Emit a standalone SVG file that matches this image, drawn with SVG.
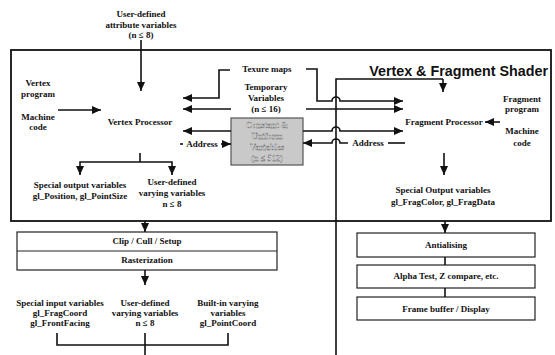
<svg xmlns="http://www.w3.org/2000/svg" width="555" height="355" viewBox="0 0 555 355">
<style>
.t{font-family:"Liberation Serif","Times New Roman",serif;font-weight:bold;font-size:9px;text-anchor:middle;fill:#111}
.ttl{font-family:"Liberation Sans",Arial,sans-serif;font-weight:bold;font-size:14.3px;text-anchor:end;fill:#111}
.ln{fill:none;stroke:#111;stroke-width:1.6}
.la{fill:none;stroke:#111;stroke-width:1.6;marker-end:url(#ah)}
.bx{fill:#fff;stroke:#222;stroke-width:1.2}
.gx{fill:#c9c9c9;stroke:#555;stroke-width:1.2}
.gt{font-family:"Liberation Serif","Times New Roman",serif;font-weight:bold;font-size:8.5px;text-anchor:middle;fill:#f2f2f2;stroke:#555;stroke-width:0.3}
</style>
<defs>
<marker id="ah" markerUnits="userSpaceOnUse" markerWidth="9" markerHeight="8" refX="9" refY="4" orient="auto">
<path d="M0,0 L9,4 L0,8 z" fill="#111"/>
</marker>
</defs>
<rect width="555" height="355" fill="#fff"/>

<g id="shader-frame">
<rect x="11" y="50" width="540" height="171" fill="none" stroke="#111" stroke-width="1.8"/>
<text class="ttl" x="548" y="76">Vertex &amp; Fragment Shader</text>
</g>

<g id="attributes">
<text class="t" x="141" y="17">User-defined</text>
<text class="t" x="141" y="28">attribute variables</text>
<text class="t" x="141" y="38">(n  ≤ 8)</text>
</g>

<g id="vertex-program">
<text class="t" x="38" y="86">Vertex</text>
<text class="t" x="38" y="97">program</text>
<text class="t" x="38" y="120">Machine</text>
<text class="t" x="38" y="130">code</text>
</g>

<g id="vertex-processor">
<text class="t" x="140" y="125">Vertex Processor</text>
</g>

<g id="texture-maps">
<text class="t" x="267" y="72">Texure maps</text>
</g>

<g id="temporary-variables">
<text class="t" x="266" y="90">Temporary</text>
<text class="t" x="266" y="101">Variables</text>
<text class="t" x="266" y="112">(n ≤ 16)</text>
</g>

<g id="uniform-variables">
<rect class="gx" x="231" y="118" width="72" height="47"/>
<text class="gt" x="267" y="128">Constant &amp;</text>
<text class="gt" x="267" y="139">Uniform</text>
<text class="gt" x="267" y="150">Variables</text>
<text class="gt" x="267" y="161">(n ≤ 512)</text>
</g>

<g id="fragment-processor">
<text class="t" x="444" y="125">Fragment Processor</text>
</g>

<g id="fragment-program">
<text class="t" x="522" y="102">Fragment</text>
<text class="t" x="522" y="112">program</text>
<text class="t" x="522" y="134">Machine</text>
<text class="t" x="522" y="146">code</text>
</g>

<g id="vertex-special-output">
<text class="t" x="80" y="188">Special output variables</text>
<text class="t" x="80" y="199">gl_Position, gl_PointSize</text>
</g>

<g id="vertex-varying-output">
<text class="t" x="172" y="185">User-defined</text>
<text class="t" x="172" y="196">varying variables</text>
<text class="t" x="172" y="207">n ≤ 8</text>
</g>

<g id="fragment-special-output">
<text class="t" x="443" y="193">Special Output variables</text>
<text class="t" x="443" y="205">gl_FragColor, gl_FragData</text>
</g>

<g id="clip-raster">
<rect class="bx" x="17" y="232" width="260" height="38"/>
<line x1="17" y1="251" x2="277" y2="251" stroke="#222" stroke-width="1"/>
<text class="t" x="147" y="244">Clip / Cull / Setup</text>
<text class="t" x="147" y="263">Rasterization</text>
</g>

<g id="special-input">
<text class="t" x="60" y="306">Special input variables</text>
<text class="t" x="60" y="316">gl_FragCoord</text>
<text class="t" x="60" y="326">gl_FrontFacing</text>
</g>

<g id="varying-input">
<text class="t" x="145" y="306">User-defined</text>
<text class="t" x="145" y="316">varying variables</text>
<text class="t" x="145" y="326">n ≤ 8</text>
</g>

<g id="builtin-varying">
<text class="t" x="228" y="306">Built-in varying</text>
<text class="t" x="228" y="316">variables</text>
<text class="t" x="228" y="326">gl_PointCoord</text>
</g>

<g id="antialiasing">
<rect class="bx" x="357" y="233" width="178" height="24"/>
<text class="t" x="446" y="248">Antialising</text>
</g>

<g id="alpha-test">
<rect class="bx" x="357" y="265" width="178" height="23"/>
<text class="t" x="446" y="279">Alpha Test, Z compare, etc.</text>
</g>

<g id="frame-buffer">
<rect class="bx" x="357" y="297" width="178" height="23"/>
<text class="t" x="446" y="312">Frame buffer / Display</text>
</g>

<g id="connectors">
<!-- attributes to vertex processor -->
<path class="la" d="M141,40 V91"/>
<!-- vertex machine code -->
<path class="la" d="M58,110 H101"/>
<!-- texture maps to vertex -->
<path class="la" d="M230,70 H219 V98 H183"/>
<!-- temporary to vertex -->
<path class="la" d="M231,109 H183"/>
<!-- uniform to vertex -->
<path class="la" d="M231,131 H183"/>
<!-- vertex address -->
<path class="ln" d="M180,144 H183"/>
<text class="t" x="202" y="147">Address</text>
<path class="la" d="M221,144 H231"/>
<!-- texture maps to fragment -->
<path class="la" d="M306,69 H317 V101 H332 A4,4 0 0 1 340,101 H403"/>
<!-- temporary to fragment -->
<path class="la" d="M306,109 H403"/>
<!-- uniform to fragment -->
<path class="la" d="M303,131 H332 A4,4 0 0 1 340,131 H403"/>
<!-- fragment address -->
<path class="la" d="M348,143 H340 A4,4 0 0 0 332,143 H303"/>
<text class="t" x="368" y="146">Address</text>
<path class="ln" d="M388,143 H405"/>
<!-- varying loop to fragment processor -->
<path class="ln" d="M336,355 V79 H443"/>
<path class="la" d="M443,79 V92"/>
<!-- fragment machine code -->
<path class="la" d="M500,122 H485"/>
<!-- vertex outputs -->
<path class="ln" d="M140,153 V162"/>
<path class="la" d="M140,162 H80 V175"/>
<path class="la" d="M140,162 H172 V175"/>
<!-- fragment output -->
<path class="la" d="M444,153 V175"/>
<!-- shader to clip -->
<path class="la" d="M145,221 V232"/>
<!-- rasterization to inputs -->
<path class="la" d="M145,270 V285"/>
<!-- bottom bracket -->
<path class="ln" d="M57,333 V345 H228 V333"/>
<path class="ln" d="M145,333 V355"/>
<!-- fragment output pipeline -->
<path class="la" d="M445,221 V233"/>
<path class="ln" d="M445,257 V265"/>
<path class="ln" d="M445,288 V297"/>
</g>
</svg>
